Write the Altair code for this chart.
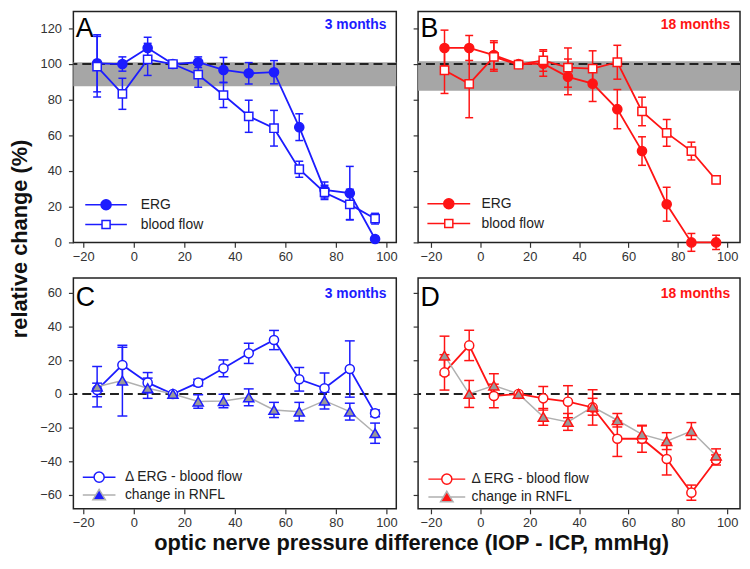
import altair as alt
import pandas as pd

FONT = "Liberation Sans"
BLUE = "#1c1cff"
RED = "#ff1414"
GRAY_LINE = "#b0b0b0"
TRI_FILL = "#9a9a9a"

# x positions of the pressure-difference bins (mmHg)
x_bins = [-14.5, -4.5, 5.5, 15.5, 25.5, 35.5, 45.5, 55.5, 65.5, 75.5, 85.5, 95.5]

# Panel A (3 months)
erg_a = [100.4, 100, 109, 100, 101, 96.7, 94.8, 95.4, 64.6, 29.4, 27.6, 1.9]
erg_a_err = [16, 4, 6, 0, 3, 7, 6, 6.5, 7.5, 4.5, 15, 1]
bf_a = [98.5, 83.3, 102.6, 100, 94, 82.6, 70.7, 64, 41, 28, 21.3, 13.3]
bf_a_err = [17, 8.7, 9, 0, 7, 7, 9, 10, 4.5, 4, 8.5, 3]
band_a = [87.5, 101]

# Panel B (18 months)
erg_b = [109, 109, 105, 100, 100.2, 92.8, 89, 74.7, 51.2, 21.4, 0, 0]
erg_b_err = [10, 7, 8, 0, 7, 10, 10, 11, 8, 9.5, 5, 4]
bf_b = [96.5, 88.9, 104, 99.6, 102, 98, 97.4, 101, 73.4, 61.4, 51.2, 35]
bf_b_err = [13, 19, 8, 0, 6, 11, 10, 9.5, 8, 7.5, 5, 2]
band_b = [85, 101.5]

# Panel C (3 months)
d_c = [2.4, 17.2, 6.7, 0, 6.7, 15.2, 24.1, 32, 8.7, 3.4, 14.8, -11.5]
d_c_err = [4, 10.5, 6, 0, 2, 5, 6, 5.7, 7, 9, 16.7, 2]
r_c = [4.3, 7.9, 3.4, 0, -4.5, -4.2, -2, -9.5, -10.5, -4, -10.5, -23.3]
r_c_err = [12, 21, 6, 0, 4, 4, 5, 4.5, 5.5, 5, 5, 6]

# Panel D (18 months)
d_d = [12.8, 28.8, -1.2, 0, -2.6, -4.6, -8, -26.6, -26.6, -38.6, -58.6, -39.2]
d_d_err = [10.5, 9, 7, 0, 7, 9.5, 10.5, 10.5, 8, 9.5, 4.5, 3]
r_d = [22.8, 0, 5, 0, -13.6, -16.6, -7.6, -15.6, -24, -28, -22, -36.6]
r_d_err = [11.5, 8, 7, 0, 5, 5, 5, 4, 5, 5, 5, 4]

x_ticks = [-20, 0, 20, 40, 60, 80, 100]
y_ticks_top = [0, 20, 40, 60, 80, 100, 120]
y_ticks_bot = [-60, -40, -20, 0, 20, 40, 60]

top_series = ["ERG", "blood flow"]
bot_series = ["\u0394 ERG - blood flow", "change in RNFL"]

Y_TITLE = "relative change (%)"
X_TITLE = "optic nerve pressure difference (IOP - ICP, mmHg)"

IND = dict(shape="independent", fill="independent", stroke="independent")


def sym(half, marker):
    """legend symbol: horizontal line of half-length `half` with a marker (units of 6 px)"""
    if marker == "circle":
        r = 0.85
        m = f"M{r},0A{r},{r},0,1,1,-{r},0A{r},{r},0,1,1,{r},0Z"
        gap = r
    elif marker == "square":
        s = 0.68
        m = f"M-{s},-{s}H{s}V{s}H-{s}Z"
        gap = s
    else:
        m = "M0,-0.95L1.05,0.8H-1.05Z"
        gap = 0.55
    return f"M-{half},0H-{gap}M{gap},0H{half}" + m


def frame_df(series, vals, errs):
    rows = []
    for s, v, e in zip(series, vals, errs):
        for xi, vi, ei in zip(x_bins, v, e):
            rows.append({"x": xi, "series": s, "val": vi, "lo": vi - ei, "hi": vi + ei})
    return pd.DataFrame(rows)


def panel(letter, age, color, series, vals, errs, xdom, ydom, yticks, width, height,
          show_labels, band, ref_y, styles, paths, fills, strokes, lx, ly, loff, rowpad,
          age_off, letter_y):
    df = frame_df(series, vals, errs)
    base = alt.Chart(df)
    xs = alt.Scale(domain=xdom, nice=False, zero=False)
    ys = alt.Scale(domain=ydom, nice=False, zero=False)
    X = alt.X("x:Q", scale=xs, axis=alt.Axis(values=x_ticks, title=None))
    yaxis = alt.Axis(values=yticks, labels=show_labels, title=letter, titleAngle=0,
                     titleX=2, titleY=letter_y, titleAlign="left", titleBaseline="alphabetic",
                     titleFontSize=27, titleFontWeight="normal", titleColor="#000",
                     titleFont=FONT)
    layers = []
    if band is not None:
        bdf = pd.DataFrame({"lo": [band[0]], "hi": [band[1]]})
        layers.append(alt.Chart(bdf).mark_rect(color="#a6a6a6").encode(
            y=alt.Y("lo:Q", scale=ys, axis=yaxis), y2="hi:Q"))
    rdf = pd.DataFrame({"y": [ref_y]})
    layers.append(alt.Chart(rdf).mark_rule(color="#222", strokeWidth=2, strokeDash=[9, 5]).encode(
        y=alt.Y("y:Q", scale=ys, axis=yaxis)))
    for s, st in zip(series, styles):
        sub = base.transform_filter(alt.datum.series == s)
        c = st["ecolor"]
        layers.append(sub.mark_rule(color=c, strokeWidth=1.5).encode(
            x=X, y=alt.Y("lo:Q", scale=ys, axis=yaxis), y2="hi:Q"))
        for f in ["lo", "hi"]:
            layers.append(sub.mark_tick(orient="horizontal", size=st["cap"], thickness=1.5,
                                        color=c, opacity=1).encode(
                x=X, y=alt.Y(f + ":Q", scale=ys, axis=yaxis)))
    for s, st in zip(series, styles):
        sub = base.transform_filter(alt.datum.series == s)
        layers.append(sub.mark_line(color=st["lcolor"], strokeWidth=st["lw"]).encode(
            x=X, y=alt.Y("val:Q", scale=ys, axis=yaxis), order="x:Q"))
    for s, st in zip(series, styles):
        sub = base.transform_filter(alt.datum.series == s)
        layers.append(sub.mark_point(shape=st["shape"], filled=True, fill=st["fill"],
                                     stroke=color, strokeWidth=1.5, size=st["size"],
                                     opacity=1).encode(
            x=X, y=alt.Y("val:Q", scale=ys, axis=yaxis)))
    leg = alt.Legend(title=None, orient="none", legendX=lx, legendY=ly, padding=0,
                     symbolSize=144, symbolStrokeWidth=1.5, symbolOpacity=1,
                     labelFont=FONT, labelFontSize=14, labelColor="#222",
                     labelOffset=loff, rowPadding=rowpad)
    legend_layer = base.transform_filter("false").mark_point(opacity=1, strokeWidth=1.5).encode(
        x=X, y=alt.Y("val:Q", scale=ys, axis=yaxis),
        shape=alt.Shape("series:N", scale=alt.Scale(domain=series, range=paths), legend=leg),
        fill=alt.Fill("series:N", scale=alt.Scale(domain=series, range=fills), legend=leg),
        stroke=alt.Stroke("series:N", scale=alt.Scale(domain=series, range=strokes), legend=leg),
    )
    layers.append(legend_layer)
    return alt.layer(*layers).properties(
        width=width, height=height,
        title=alt.TitleParams(age, anchor="end", orient="top", offset=age_off, dx=-10,
                              fontSize=14, fontWeight="bold", color=color, font=FONT,
                              baseline="alphabetic", frame="group"))


def top_styles(c):
    return [
        {"ecolor": c, "cap": 8, "lcolor": c, "lw": 1.8, "shape": "circle", "fill": c, "size": 85},
        {"ecolor": c, "cap": 8, "lcolor": c, "lw": 1.8, "shape": "square", "fill": "white", "size": 70},
    ]


def bot_styles(c):
    return [
        {"ecolor": c, "cap": 10, "lcolor": c, "lw": 1.8, "shape": "circle", "fill": "white", "size": 85},
        {"ecolor": c, "cap": 10, "lcolor": GRAY_LINE, "lw": 1.5, "shape": "triangle-up", "fill": TRI_FILL, "size": 105},
    ]


XDOM_L = [-23.9, 103.9]
XDOM_R = [-25.2, 105.2]
YDOM_T = [0, 129.4]
YDOM_B = [-68.2, 68.8]

A = panel("A", "3 months", BLUE, top_series, [erg_a, bf_a], [erg_a_err, bf_a_err],
          XDOM_L, YDOM_T, y_ticks_top, 326, 233, True, band_a, 100, top_styles(BLUE),
          [sym(3.5, "circle"), sym(3.5, "square")], [BLUE, "white"], [BLUE, BLUE],
          26, 188, 28, 3, -32, 25)
B = panel("B", "18 months", RED, top_series, [erg_b, bf_b], [erg_b_err, bf_b_err],
          XDOM_R, YDOM_T, y_ticks_top, 325, 233, False, band_b, 100, top_styles(RED),
          [sym(3.6, "circle"), sym(3.6, "square")], [RED, "white"], [RED, RED],
          24, 187, 26, 3, -32, 25)
C = panel("C", "3 months", BLUE, bot_series, [d_c, r_c], [d_c_err, r_c_err],
          XDOM_L, YDOM_B, y_ticks_bot, 326, 233, True, None, 0, bot_styles(BLUE),
          [sym(2.75, "circle"), sym(2.75, "tri")], ["white", BLUE], [BLUE, GRAY_LINE],
          19, 194, 19, 0, -34, 28)
D = panel("D", "18 months", RED, bot_series, [d_d, r_d], [d_d_err, r_d_err],
          XDOM_R, YDOM_B, y_ticks_bot, 325, 233, False, None, 0, bot_styles(RED),
          [sym(3.1, "circle"), sym(3.1, "tri")], ["white", RED], [RED, GRAY_LINE],
          22, 196, 18, 0, -34, 28)

row1 = alt.hconcat(A, B, spacing=13).resolve_scale(**IND).resolve_legend(**IND)
row2 = alt.hconcat(C, D, spacing=13).resolve_scale(**IND).resolve_legend(**IND)
grid = alt.vconcat(row1, row2, spacing=13).resolve_scale(**IND).resolve_legend(**IND)

# narrow invisible column that only carries the shared y-axis title
title_col = alt.Chart(pd.DataFrame({"v": [0]})).mark_point(opacity=0).encode(
    y=alt.Y("v:Q", axis=alt.Axis(title=Y_TITLE, labels=False, ticks=False, domain=False,
                                 grid=False, titleAngle=270, titleX=-2, titleY=229,
                                 titleAlign="center", titleBaseline="bottom",
                                 titleFontSize=22, titleFontWeight="bold", titleFont=FONT,
                                 titleColor="#111"))
).properties(width=1, height=480, view=alt.ViewBackground(stroke="transparent"))

body = alt.hconcat(title_col, grid, spacing=1).resolve_scale(**IND).resolve_legend(**IND)

chart = alt.vconcat(
    body,
    title=alt.TitleParams(X_TITLE, orient="bottom", anchor="middle", fontSize=22,
                          fontWeight="bold", font=FONT, color="#111", offset=3, dx=37),
).resolve_scale(**IND).resolve_legend(**IND).properties(
    padding={"left": 0, "top": 0, "right": 0, "bottom": 0},
    background="white",
).configure_view(
    stroke="#222", strokeWidth=1.5
).configure_axis(
    domain=False, grid=False, tickColor="#333", tickSize=5, tickWidth=1.2,
    labelColor="#333", labelFont=FONT, labelFontSize=13, labelPadding=7,
).configure_axisX(labelPadding=3)

chart.save("out.html", embed_options={"renderer": "svg", "actions": False})
